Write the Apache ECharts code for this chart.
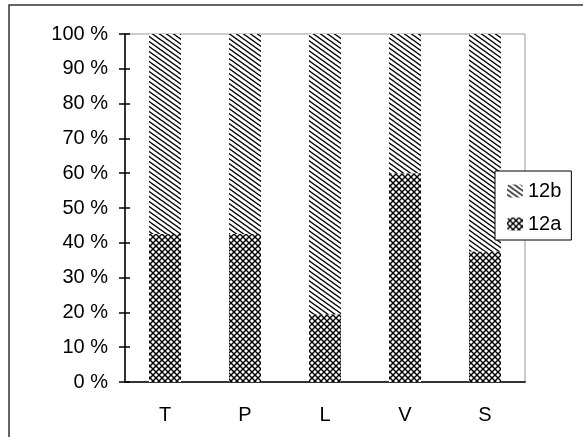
<!DOCTYPE html>
<html>
<head>
<meta charset="utf-8">
<script src="https://cdn.jsdelivr.net/npm/echarts@6/dist/echarts.min.js"></script>
<style>
  html, body { margin: 0; padding: 0; background: #fff; }
  #chart { width: 583px; height: 437px; }
</style>
</head>
<body>
<div id="chart"></div>
<script>
var categories = ['T', 'P', 'L', 'V', 'S']
var values12a = [42.5, 42.5, 19.5, 60, 37.5]
var values12b = [57.5, 57.5, 80.5, 40, 62.5]
var yTicks = [0, 10, 20, 30, 40, 50, 60, 70, 80, 90, 100]

// diagonal hatch "\\\" for 12b
function makeHatch() {
  var c = document.createElement('canvas')
  c.width = 7
  c.height = 5
  var ctx = c.getContext('2d')
  ctx.fillStyle = '#fff'
  ctx.fillRect(0, 0, 7, 5)
  ctx.strokeStyle = '#000'
  ctx.lineWidth = 1.4
  for (var k = -1; k <= 1; k++) {
    ctx.beginPath()
    ctx.moveTo(-7, -5 + k * 5)
    ctx.lineTo(14, 10 + k * 5)
    ctx.stroke()
  }
  return c
}

// cross hatch for 12a
function makeCross() {
  var c = document.createElement('canvas')
  c.width = 6
  c.height = 6
  var ctx = c.getContext('2d')
  ctx.fillStyle = '#fff'
  ctx.fillRect(0, 0, 6, 6)
  ctx.strokeStyle = '#000'
  ctx.lineWidth = 1.4
  for (var k = -1; k <= 1; k++) {
    ctx.beginPath()
    ctx.moveTo(-6 + k * 6, -6)
    ctx.lineTo(12 + k * 6, 12)
    ctx.stroke()
    ctx.beginPath()
    ctx.moveTo(-6 + k * 6, 12)
    ctx.lineTo(12 + k * 6, -6)
    ctx.stroke()
  }
  return c
}

var font = '"Liberation Sans", Arial, sans-serif'
var chart = echarts.init(document.getElementById('chart'), null, { renderer: 'canvas' })

var option = {
  animation: false,
  backgroundColor: '#fff',
  textStyle: { fontFamily: font },
  graphic: [
    {
      type: 'rect',
      shape: { x: 9, y: 5, width: 700, height: 600 },
      style: { fill: 'none', stroke: '#333', lineWidth: 1.5 },
      silent: true,
      z: -10
    }
  ],
  grid: {
    left: 125,
    top: 34,
    right: 58,
    bottom: 55,
    show: true,
    borderColor: '#999',
    borderWidth: 1
  },
  legend: {
    data: ['12b', '12a'],
    orient: 'vertical',
    left: 495,
    top: 171,
    padding: [10, 10, 6, 12],
    itemGap: 13,
    itemWidth: 16,
    itemHeight: 13,
    backgroundColor: '#fff',
    borderColor: '#000',
    borderWidth: 1,
    borderRadius: 0,
    textStyle: { fontSize: 20, color: '#000', fontFamily: font },
    z: 10
  },
  xAxis: [
    {
      type: 'category',
      data: categories,
      axisLine: { lineStyle: { color: '#333', width: 2 } },
      axisTick: { length: 6, lineStyle: { color: '#000', width: 1.5 } },
      axisLabel: { fontSize: 20, color: '#000', margin: 23, fontFamily: font },
      splitLine: { show: false }
    },
    {
      type: 'category',
      data: categories,
      position: 'bottom',
      axisLine: { show: false },
      axisTick: { inside: true, length: 6, lineStyle: { color: '#000', width: 1.5 } },
      axisLabel: { show: false },
      splitLine: { show: false }
    }
  ],
  yAxis: [
    {
      type: 'value',
      min: yTicks[0],
      max: yTicks[yTicks.length - 1],
      interval: 10,
      axisLine: { show: true, lineStyle: { color: '#000', width: 1.5 } },
      axisTick: { show: true, length: 6, lineStyle: { color: '#000', width: 1.5 } },
      axisLabel: { fontSize: 20, color: '#000', margin: 17, formatter: '{value} %', fontFamily: font },
      splitLine: { show: false }
    },
    {
      type: 'value',
      min: yTicks[0],
      max: yTicks[yTicks.length - 1],
      interval: 10,
      position: 'left',
      axisLine: { show: false },
      axisTick: { show: true, inside: true, length: 5, lineStyle: { color: '#000', width: 1.5 } },
      axisLabel: { show: false },
      splitLine: { show: false }
    }
  ],
  series: [
    {
      name: '12a',
      type: 'bar',
      stack: 'total',
      data: values12a,
      barWidth: '40%',
      itemStyle: { color: { image: makeCross(), repeat: 'repeat' } }
    },
    {
      name: '12b',
      type: 'bar',
      stack: 'total',
      data: values12b,
      barWidth: '40%',
      itemStyle: { color: { image: makeHatch(), repeat: 'repeat' } }
    }
  ]
}

chart.setOption(option)
</script>
</body>
</html>
